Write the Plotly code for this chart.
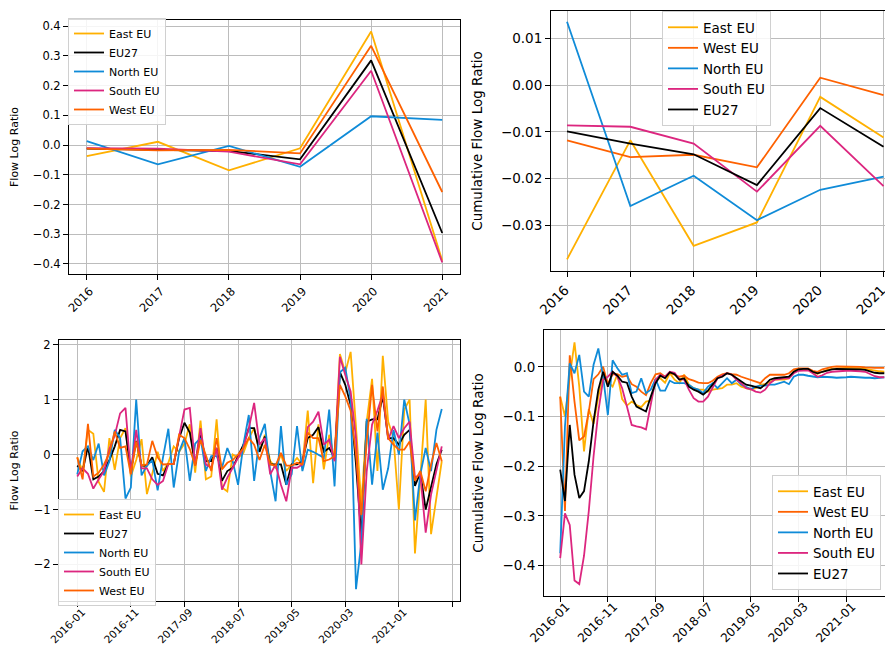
import plotly.graph_objects as go

# ---------------- data ----------------
years = [2016, 2017, 2018, 2019, 2020, 2021]

# annual flow log ratio (top-left)
east_annual = [-0.037, 0.011, -0.085, -0.011, 0.382, -0.389]
eu27_annual = [-0.012, -0.015, -0.020, -0.048, 0.285, -0.296]
north_annual = [0.013, -0.065, -0.003, -0.073, 0.097, 0.085]
south_annual = [-0.010, -0.012, -0.022, -0.065, 0.250, -0.395]
west_annual = [-0.012, -0.018, -0.016, -0.028, 0.334, -0.158]

# annual cumulative flow log ratio (top-right)
east_cum_annual = [-0.0373, -0.0118, -0.0344, -0.0294, -0.0025, -0.0112]
west_cum_annual = [-0.0118, -0.0154, -0.0149, -0.0176, 0.0016, -0.0021]
north_cum_annual = [0.0136, -0.0259, -0.0194, -0.0289, -0.0224, -0.0196]
south_cum_annual = [-0.0086, -0.0089, -0.0125, -0.0228, -0.0087, -0.0216]
eu27_cum_annual = [-0.0099, -0.0125, -0.0148, -0.0214, -0.0049, -0.0132]

# monthly categories 2016-01 .. 2021-09
months = [f"{y}-{m:02d}" for y in range(2016, 2022) for m in range(1, 13)][:69]

# monthly flow log ratio (bottom-left)
east_m = [-0.05, -0.3, 0.45, 0.38, -0.5, -0.68, 0.3, -0.28, 0.3, 0.48,
          -0.4, -0.1, 0.28, -0.72, -0.35, 0.05, -0.3, -0.15, 0.15, 0.05,
          0.2, 0.55, -0.33, 0.62, -0.45, -0.4, 0.64, -0.6, -0.67, 0.0,
          -0.06, 0.03, 0.3, 0.48, 0.06, 0.36, -0.12, -0.24, 0.0, -0.3,
          -0.18, -0.06, -0.18, 0.8, -0.52, 0.55, -0.27, 0.36, -0.06, 1.83,
          1.5, 1.87, 0.5, -0.9, 0.6, 1.38, -0.3, 1.8, 0.6, 0.3,
          -1.0, 0.82, 1.0, -1.8, -0.42, 1.0, -1.45, -0.8, -0.12]
eu27_m = [-0.2, -0.3, 0.15, -0.45, -0.4, -0.3, -0.1, 0.15, 0.45, 0.42,
          -0.3, 0.25, -0.2, -0.2, -0.05, -0.35, -0.38, -0.17, -0.17, 0.3,
          0.58, 0.4, -0.18, 0.36, -0.12, -0.12, 0.12, -0.48, -0.3, -0.24,
          -0.03, 0.18, 0.48, 0.48, 0.05, 0.33, -0.18, -0.18, -0.18, -0.55,
          -0.18, -0.18, -0.12, 0.3, 0.36, 0.5, 0.05, 0.12, -0.06, 1.5,
          1.27, 0.9, -0.18, -1.5, 0.6, 0.64, 0.64, 1.06, 0.3, 0.3,
          0.18, 0.36, 0.45, -0.57, -0.33, -1.0, -0.6, -0.18, 0.09]
north_m = [-0.36, 0.06, 0.15, -0.1, 0.2, -0.38, -0.12, 0.45, 0.3, -0.8,
           -0.6, 1.0, -0.38, -0.2, -0.1, -0.65, -0.05, 0.47, -0.6, 0.05,
           0.3, -0.48, 0.2, 0.3, -0.3, -0.03, -0.03, -0.24, 0.12, -0.12,
           -0.55, 0.18, 0.72, -0.48, 0.3, 0.56, -0.3, -0.85, 0.52, -0.55,
           -0.36, 0.52, -0.3, 0.09, 0.05, 0.0, -0.06, 0.82, -0.58, 1.5,
           1.58, 1.0, -2.45, -1.6, 0.65, -0.55, 0.4, -0.64, -0.25, 0.45,
           0.0, 1.0, 0.55, -1.2, -0.36, 0.12, -0.3, 0.45, 0.83]
south_m = [-0.4, -0.25, -0.35, -0.62, -0.45, -0.3, 0.1, 0.35, 0.75, 0.85,
           -0.35, 0.45, -0.25, -0.25, -0.45, -0.55, -0.48, -0.17, -0.17, 0.36,
           0.82, 0.85, -0.2, 0.48, -0.18, -0.24, 0.12, -0.64, -0.42, -0.24,
           -0.06, 0.12, 0.48, 0.94, 0.18, 0.3, -0.36, -0.18, -0.55, -0.85,
           -0.24, -0.24, -0.18, 0.5, 0.6, 0.78, 0.18, 0.27, -0.12, 1.78,
           1.45, 1.15, 0.3, -2.0, -0.3, 0.55, 0.8, 1.1, 0.27, 0.52,
           0.3, 0.48, 0.6, -0.42, -0.36, -1.42, -0.73, -0.3, 0.15]
west_m = [-0.05, -0.45, 0.56, -0.4, -0.33, -0.18, 0.03, 0.42, 0.12, 0.15,
          -0.36, 0.24, -0.2, -0.18, 0.25, -0.05, -0.18, -0.17, -0.17, 0.36,
          0.3, 0.1, -0.2, 0.27, 0.0, -0.3, 0.3, -0.27, -0.15, -0.1,
          0.0, 0.12, 0.3, 0.18, -0.1, 0.18, -0.18, -0.2, 0.03, -0.2,
          -0.2, -0.15, -0.18, 0.4, 0.3, 0.3, -0.12, -0.09, -0.03, 1.27,
          1.06, 0.8, 0.0, -1.1, 0.24, 1.27, 0.42, 1.24, 0.3, 0.18,
          0.09, 0.09, 0.24, -0.48, -0.3, -0.67, -0.18, 0.21, -0.12]

# monthly cumulative flow log ratio (bottom-right)
east_cm = [-0.06, -0.1, -0.02, 0.049, -0.04, -0.17, -0.085, -0.115, -0.06, -0.02,
           -0.03, -0.04, -0.015, -0.065, -0.078, -0.07, -0.077, -0.081, -0.07, -0.068,
           -0.025, -0.023, -0.032, -0.013, -0.026, -0.033, -0.016, -0.036, -0.043, -0.046,
           -0.046, -0.05, -0.046, -0.045, -0.043, -0.036, -0.036, -0.033, -0.04, -0.043,
           -0.046, -0.043, -0.036, -0.035, -0.03, -0.026, -0.026, -0.026, -0.023, -0.01,
           -0.005, -0.004, -0.005, -0.011, -0.014, -0.01, -0.006, -0.004, -0.003, -0.003,
           -0.002, -0.002, -0.002, -0.003, -0.004, -0.006, -0.008, -0.009, -0.01]
west_cm = [-0.06, -0.29, 0.023, -0.07, -0.148, -0.14, -0.09, -0.025, -0.015, 0.0,
           -0.035, -0.015, -0.015, -0.02, -0.018, -0.035, -0.04, -0.05, -0.057, -0.033,
           -0.015, -0.013, -0.02, -0.012, -0.016, -0.02, -0.018, -0.025, -0.028, -0.032,
           -0.033, -0.033, -0.028, -0.02, -0.015, -0.013, -0.015, -0.016, -0.02, -0.023,
           -0.026, -0.03, -0.033, -0.023, -0.016, -0.016, -0.016, -0.016, -0.013, -0.005,
           -0.003, -0.003, -0.003, -0.008, -0.01, -0.005, -0.002, 0.0, 0.001, 0.001,
           0.001, 0.001, 0.001, 0.0, -0.001, -0.002, -0.002, -0.002, -0.002]
north_cm = [-0.375, -0.12, 0.007, -0.013, 0.024, -0.05, -0.06, 0.004, 0.037, -0.02,
            -0.097, 0.013, -0.003, -0.016, -0.013, -0.053, -0.05, -0.023, -0.053, -0.046,
            -0.025, -0.048, -0.048, -0.028, -0.033, -0.033, -0.033, -0.036, -0.043, -0.046,
            -0.053, -0.04, -0.033, -0.043, -0.033, -0.023, -0.033, -0.026, -0.036, -0.04,
            -0.045, -0.04, -0.038, -0.038, -0.036, -0.036, -0.033, -0.03, -0.035, -0.02,
            -0.016, -0.016, -0.018, -0.02, -0.021, -0.02, -0.02, -0.021, -0.022, -0.022,
            -0.021, -0.02, -0.021, -0.022, -0.022, -0.022, -0.023, -0.022, -0.021]
south_cm = [-0.385, -0.295, -0.318, -0.43, -0.437, -0.38, -0.29, -0.18, -0.09, -0.026,
            -0.02, -0.01, -0.02, -0.043, -0.08, -0.117, -0.12, -0.122, -0.126, -0.073,
            -0.026, -0.016, -0.02, -0.01, -0.012, -0.025, -0.026, -0.046, -0.063, -0.07,
            -0.07, -0.06, -0.04, -0.023, -0.018, -0.013, -0.016, -0.026, -0.033, -0.043,
            -0.045, -0.05, -0.052, -0.046, -0.033, -0.026, -0.025, -0.023, -0.023, -0.013,
            -0.008, -0.007, -0.007, -0.013, -0.02, -0.017, -0.012, -0.01, -0.009, -0.008,
            -0.008, -0.008, -0.008, -0.009, -0.01, -0.014, -0.019, -0.021, -0.021]
eu27_cm = [-0.207, -0.27, -0.117, -0.217, -0.264, -0.25, -0.19, -0.11, -0.046, -0.01,
           -0.04, -0.01, -0.018, -0.03, -0.032, -0.06, -0.08, -0.085, -0.09, -0.06,
           -0.033, -0.018, -0.023, -0.011, -0.015, -0.026, -0.023, -0.04, -0.046, -0.05,
           -0.056, -0.048, -0.036, -0.023, -0.02, -0.013, -0.016, -0.023, -0.03, -0.036,
           -0.038, -0.041, -0.043, -0.036, -0.026, -0.023, -0.022, -0.02, -0.02, -0.01,
           -0.005, -0.004, -0.004, -0.01, -0.013, -0.01, -0.007, -0.005, -0.004, -0.004,
           -0.004, -0.004, -0.004, -0.005, -0.006, -0.009, -0.012, -0.013, -0.013]

# ---------------- styling ----------------
C_EAST = "#FFB000"
C_WEST = "#FE6100"
C_NORTH = "#0F8BD8"
C_SOUTH = "#DC267F"
C_EU27 = "#000000"
FONT = "DejaVu Sans"
LW = 1.8

fig = go.Figure()

def add(x, y, name, color, xa, ya, leg):
    fig.add_trace(go.Scatter(x=x, y=y, name=name, mode="lines",
                             line=dict(color=color, width=LW),
                             xaxis=xa, yaxis=ya, legend=leg))

# top-left
for y, n, c in [(east_annual, "East EU", C_EAST), (eu27_annual, "EU27", C_EU27),
                (north_annual, "North EU", C_NORTH), (south_annual, "South EU", C_SOUTH),
                (west_annual, "West EU", C_WEST)]:
    add(years, y, n, c, "x", "y", "legend")
# top-right
for y, n, c in [(east_cum_annual, "East EU", C_EAST), (west_cum_annual, "West EU", C_WEST),
                (north_cum_annual, "North EU", C_NORTH), (south_cum_annual, "South EU", C_SOUTH),
                (eu27_cum_annual, "EU27", C_EU27)]:
    add(years, y, n, c, "x2", "y2", "legend2")

idx = list(range(len(months)))
# bottom-left
for y, n, c in [(east_m, "East EU", C_EAST), (eu27_m, "EU27", C_EU27),
                (north_m, "North EU", C_NORTH), (south_m, "South EU", C_SOUTH),
                (west_m, "West EU", C_WEST)]:
    add(idx, y, n, c, "x3", "y3", "legend3")
# bottom-right
for y, n, c in [(east_cm, "East EU", C_EAST), (west_cm, "West EU", C_WEST),
                (north_cm, "North EU", C_NORTH), (south_cm, "South EU", C_SOUTH),
                (eu27_cm, "EU27", C_EU27)]:
    add(idx, y, n, c, "x4", "y4", "legend4")

W, H = 893, 647

def dx(a, b):
    return [a / W, b / W]

def dy(top, bottom):
    return [1 - bottom / H, 1 - top / H]

common = dict(showline=True, mirror=True, linecolor="black", linewidth=1,
              showgrid=True, gridcolor="#bcbcbc", gridwidth=1, zeroline=False,
              ticks="outside", ticklen=5, tickcolor="black", tickwidth=1,
              automargin=False, ticklabeloverflow="allow")

mtick = list(range(0, 71, 10))
mtext = [months[i] if i < len(months) else "" for i in mtick]

fig.update_layout(
    width=W, height=H, margin=dict(l=0, r=0, t=0, b=0),
    paper_bgcolor="white", plot_bgcolor="white",
    font=dict(family=FONT, color="black"),
    xaxis=dict(domain=dx(61, 452), anchor="y", range=[2015.75, 2021.25],
               tickvals=years, ticktext=[str(v) for v in years], tickangle=-45,
               tickfont=dict(size=11.5), ticklabelshift=3, **common),
    yaxis=dict(domain=dy(12, 266), anchor="x", range=[-0.434, 0.421],
               dtick=0.1, tickformat=".1f", tickfont=dict(size=11.5),
               title=dict(text="Flow Log Ratio", font=dict(size=11)), **common),
    xaxis2=dict(domain=dx(543, 892), anchor="y2", range=[2015.747, 2021.26],
                tickvals=years, ticktext=[str(v) for v in years], tickangle=-45,
                tickfont=dict(size=13.5), ticklabelshift=-2, **common),
    yaxis2=dict(domain=dy(3, 263), anchor="x2", range=[-0.0398, 0.0159],
                tickvals=[0.01, 0.0, -0.01, -0.02, -0.03], tickformat=".2f",
                tickfont=dict(size=13.5),
                title=dict(text="Cumulative Flow Log Ratio", font=dict(size=13.5)), **common),
    xaxis3=dict(domain=dx(51, 452), anchor="y3", range=[-3.4, 71.4],
                tickvals=mtick, ticktext=mtext, tickangle=-45,
                tickfont=dict(size=10.5), ticklabelshift=5, ticklabelstandoff=-5, **common),
    yaxis3=dict(domain=dy(332, 593), anchor="x3", range=[-2.666, 2.086],
                tickvals=[2, 1, 0, -1, -2], tickfont=dict(size=11.5),
                title=dict(text="Flow Log Ratio", font=dict(size=11)), **common),
    xaxis4=dict(domain=dx(536, 892.5), anchor="y4", range=[-3.4, 71.4],
                tickvals=mtick, ticktext=mtext, tickangle=-45,
                tickfont=dict(size=12), ticklabelshift=6, ticklabelstandoff=-7, **common),
    yaxis4=dict(domain=dy(322, 588), anchor="x4", range=[-0.461, 0.074],
                tickvals=[0.0, -0.1, -0.2, -0.3, -0.4], tickformat=".1f",
                tickfont=dict(size=13.5),
                title=dict(text="Cumulative Flow Log Ratio", font=dict(size=13.5)), **common),
)

leg_common = dict(bgcolor="rgba(255,255,255,0.85)", bordercolor="#d0d0d0", borderwidth=1,
                  xanchor="left", yanchor="top")
fig.update_layout(
    legend=dict(x=60 / W, y=1 - 10 / H, font=dict(size=11), **leg_common),
    legend2=dict(x=654 / W, y=1 - 3 / H, font=dict(size=13.5), **leg_common),
    legend3=dict(x=50 / W, y=1 - 491 / H, font=dict(size=11), **leg_common),
    legend4=dict(x=764 / W, y=1 - 467 / H, font=dict(size=13.5), **leg_common),
)

fig.write_html("out.html")
